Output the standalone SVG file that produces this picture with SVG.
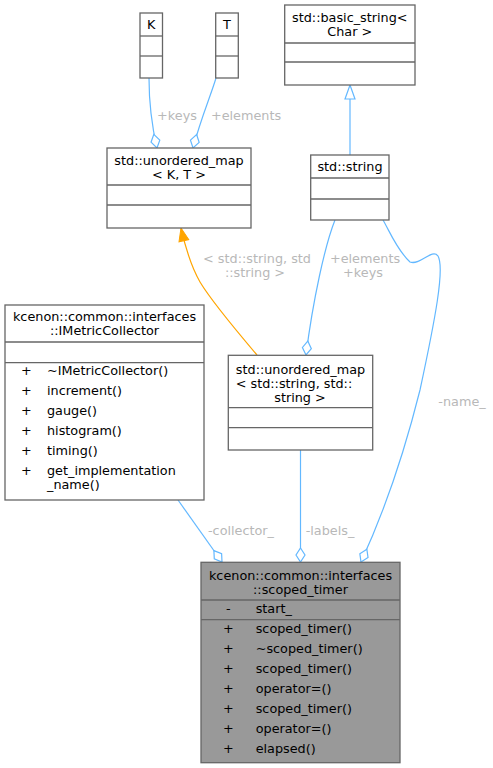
<svg xmlns="http://www.w3.org/2000/svg" width="493" height="768" viewBox="0 0 493 768">
<defs>
<style>
text{font-family:"DejaVu Sans","Liberation Sans",sans-serif;font-size:12.8px;fill:#000}
.m{text-anchor:middle}
.lbl{fill:#b8b8b8;text-anchor:middle}
.box{fill:#fff;stroke:#666;stroke-width:1.3}
.grey{fill:#999;stroke:#666;stroke-width:1.3}
.sep{stroke:#666;stroke-width:1.3}
.e{fill:none;stroke:#63b8ff;stroke-width:1.2}
.o{fill:none;stroke:#ffa500;stroke-width:1.2}
</style>
<marker id="dia" viewBox="-1 -6 16 12" markerWidth="16" markerHeight="12" refX="14" refY="0" orient="auto" markerUnits="userSpaceOnUse">
<path d="M0,0 L7,-4.5 L14,0 L7,4.5 Z" fill="#fff" stroke="#63b8ff" stroke-width="1.2"/>
</marker>
<marker id="tri" viewBox="-1 -6 16 12" markerWidth="16" markerHeight="12" refX="14" refY="0" orient="auto" markerUnits="userSpaceOnUse">
<path d="M0,-5 L14,0 L0,5 Z" fill="#fff" stroke="#63b8ff" stroke-width="1.2"/>
</marker>
<marker id="otri" viewBox="-1 -6 16 12" markerWidth="16" markerHeight="12" refX="13" refY="0" orient="auto" markerUnits="userSpaceOnUse">
<path d="M0,-5 L13,0 L0,5 Z" fill="#ffa500" stroke="#ffa500" stroke-width="1"/>
</marker>
</defs>
<rect width="493" height="768" fill="#fff"/>

<g id="connectors">
<path class="e" d="M149,78 C149,98 150,118 157,148" marker-end="url(#dia)"/>
<text class="lbl" x="177" y="120">+keys</text>
<path class="e" d="M216,78 C211,95 201,118 193,148" marker-end="url(#dia)"/>
<text class="lbl" x="246" y="120">+elements</text>
<path class="e" d="M350,155 L350,85" marker-end="url(#tri)"/>
<path class="o" d="M257,355 C240,335 212,302 200,282 C192,268 186,250 181,228" marker-end="url(#otri)"/>
<text class="lbl" x="257" y="263">&lt; std::string, std</text>
<text class="lbl" x="255" y="277">::string &gt;</text>
<path class="e" d="M335,220 C325,245 313,300 306,355" marker-end="url(#dia)"/>
<text class="lbl" x="365" y="263">+elements</text>
<text class="lbl" x="363" y="277">+keys</text>
<path class="e" d="M383,220 C390,232 397,250 410,262 C420,266 432,248 438,256 C445,268 435,320 420,390 C405,450 385,510 361,562" marker-end="url(#dia)"/>
<text class="lbl" x="462" y="406">-name_</text>
<path class="e" d="M178,500 L222,562" marker-end="url(#dia)"/>
<text class="lbl" x="241" y="535">-collector_</text>
<path class="e" d="M300.5,450 L300.5,562" marker-end="url(#dia)"/>
<text class="lbl" x="330" y="535">-labels_</text>
</g>

<g id="K">
<rect class="box" x="140" y="13" width="22.5" height="65"/>
<line class="sep" x1="140" y1="36" x2="162.5" y2="36"/>
<line class="sep" x1="140" y1="56" x2="162.5" y2="56"/>
<text class="m" x="151.2" y="29">K</text>
</g>

<g id="T">
<rect class="box" x="215.7" y="13" width="22.6" height="65"/>
<line class="sep" x1="215.7" y1="36" x2="238.3" y2="36"/>
<line class="sep" x1="215.7" y1="56" x2="238.3" y2="56"/>
<text class="m" x="227" y="29">T</text>
</g>

<g id="basic_string">
<rect class="box" x="284.7" y="5" width="130.3" height="80"/>
<line class="sep" x1="284.7" y1="43" x2="415" y2="43"/>
<line class="sep" x1="284.7" y1="62" x2="415" y2="62"/>
<text class="m" x="349.8" y="22">std::basic_string&lt;</text>
<text class="m" x="349.8" y="36">Char &gt;</text>
</g>

<g id="umap_KT">
<rect class="box" x="107" y="148" width="144" height="80"/>
<line class="sep" x1="107" y1="185" x2="251" y2="185"/>
<line class="sep" x1="107" y1="205" x2="251" y2="205"/>
<text class="m" x="179" y="165">std::unordered_map</text>
<text class="m" x="179" y="179">&lt; K, T &gt;</text>
</g>

<g id="string">
<rect class="box" x="310.7" y="155" width="78.3" height="65"/>
<line class="sep" x1="310.7" y1="178" x2="389" y2="178"/>
<line class="sep" x1="310.7" y1="199" x2="389" y2="199"/>
<text class="m" x="350" y="171">std::string</text>
</g>

<g id="IMetricCollector">
<rect class="box" x="5" y="305" width="199" height="195"/>
<line class="sep" x1="5" y1="342" x2="204" y2="342"/>
<line class="sep" x1="5" y1="362.7" x2="204" y2="362.7"/>
<text class="m" x="104.5" y="321">kcenon::common::interfaces</text>
<text class="m" x="104.5" y="335">::IMetricCollector</text>
<text x="21" y="375">+</text><text x="47" y="375">~IMetricCollector()</text>
<text x="21" y="395">+</text><text x="47" y="395">increment()</text>
<text x="21" y="415">+</text><text x="47" y="415">gauge()</text>
<text x="21" y="435">+</text><text x="47" y="435">histogram()</text>
<text x="21" y="455">+</text><text x="47" y="455">timing()</text>
<text x="21" y="475">+</text><text x="47" y="475">get_implementation</text>
<text x="47" y="489">_name()</text>
</g>

<g id="umap_ss">
<rect class="box" x="228.3" y="355.3" width="144.4" height="94.7"/>
<line class="sep" x1="228.3" y1="407.7" x2="372.7" y2="407.7"/>
<line class="sep" x1="228.3" y1="427.7" x2="372.7" y2="427.7"/>
<text class="m" x="300.5" y="374">std::unordered_map</text>
<text x="235.7" y="388">&lt; std::string, std::</text>
<text class="m" x="300" y="402">string &gt;</text>
</g>

<g id="scoped_timer">
<rect class="grey" x="201" y="562.3" width="199" height="200.4"/>
<line class="sep" x1="201" y1="600" x2="400" y2="600"/>
<line class="sep" x1="201" y1="619.7" x2="400" y2="619.7"/>
<text class="m" x="300.5" y="580">kcenon::common::interfaces</text>
<text class="m" x="300.5" y="594">::scoped_timer</text>
<text x="226" y="613">-</text><text x="255.7" y="613">start_</text>
<text x="223" y="633">+</text><text x="255.7" y="633">scoped_timer()</text>
<text x="223" y="653">+</text><text x="255.7" y="653">~scoped_timer()</text>
<text x="223" y="673">+</text><text x="255.7" y="673">scoped_timer()</text>
<text x="223" y="693">+</text><text x="255.7" y="693">operator=()</text>
<text x="223" y="713">+</text><text x="255.7" y="713">scoped_timer()</text>
<text x="223" y="733">+</text><text x="255.7" y="733">operator=()</text>
<text x="223" y="753">+</text><text x="255.7" y="753">elapsed()</text>
</g>
</svg>
